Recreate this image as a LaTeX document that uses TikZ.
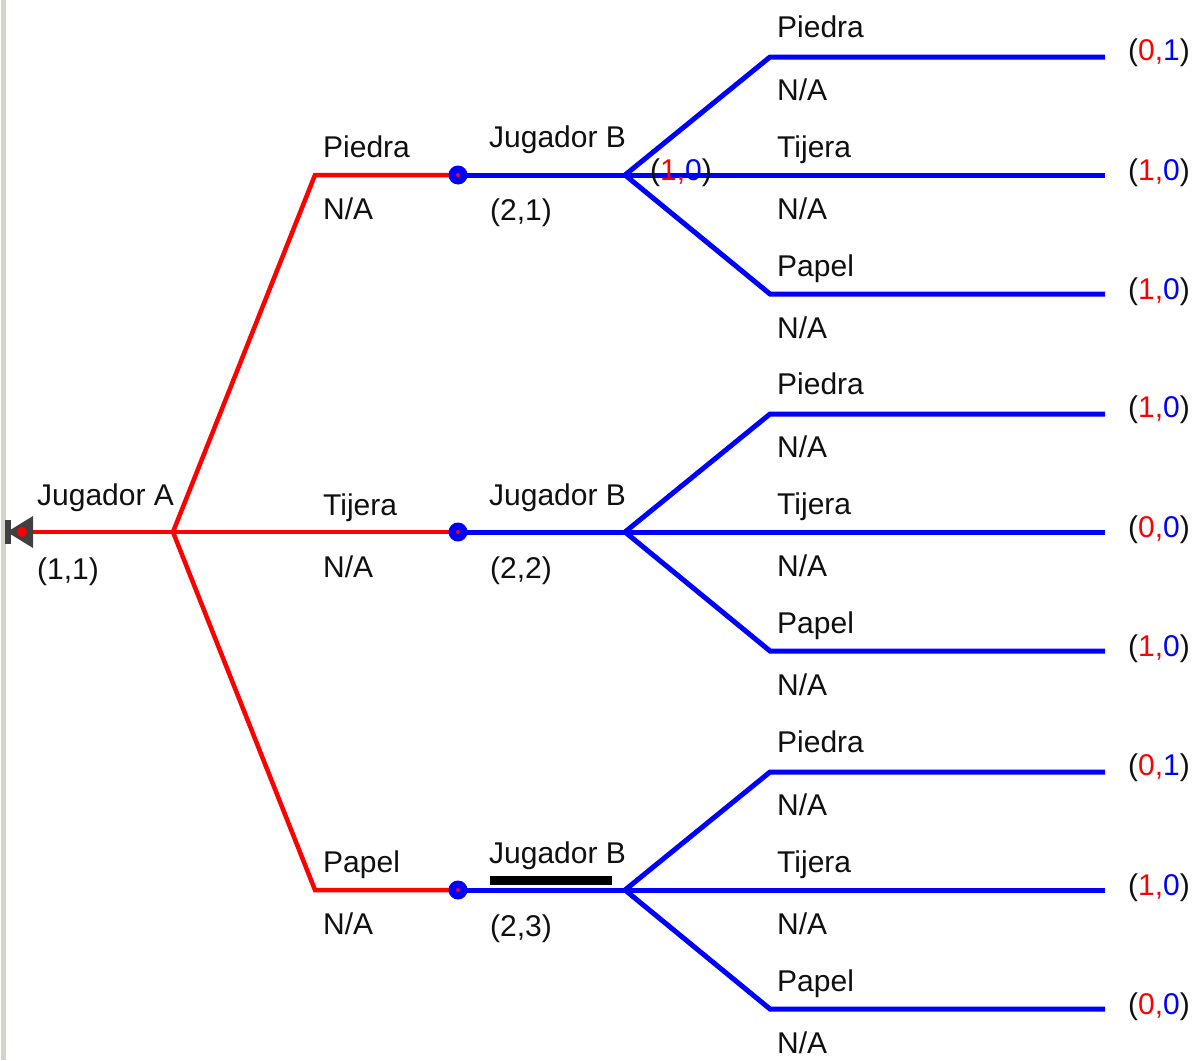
\documentclass[tikz,border=0pt]{standalone}
\usepackage{fontspec}
\setmainfont{Liberation Sans}
\definecolor{txt}{HTML}{101010}
\definecolor{rd}{HTML}{FF0000}
\definecolor{bl}{HTML}{0000FF}
\definecolor{brd}{HTML}{D4D4C8}
\begin{document}
\begin{tikzpicture}[x=1pt,y=-1pt,
  lbl/.style={anchor=base west,inner sep=0pt,text=txt,font=\fontsize{30}{32}\selectfont},
  redline/.style={draw=rd,line width=4.5pt,line join=miter},
  blueline/.style={draw=bl,line width=5pt,line join=miter},
  dot/.style={circle,fill=bl,inner sep=0pt,minimum size=19pt}]
\useasboundingbox (0,0) rectangle (1196,1060);
\fill[white] (0,0) rectangle (1196,1060);
\fill[brd] (1,0) rectangle (6,1060);
% root
\coordinate (start) at (10,532);
\coordinate (root) at (173,532);
\coordinate (a1) at (315,175);
\coordinate (a2) at (315,532);
\coordinate (a3) at (315,890);
\coordinate (d1) at (458,175);
\coordinate (d2) at (458,532);
\coordinate (d3) at (458,890);
\coordinate (b1) at (625,175);
\coordinate (b2) at (625,532);
\coordinate (b3) at (625,890);
\foreach \i/\y in {1/175,2/532,3/890}{
  \coordinate (c\i1) at (770,\y-118);
  \coordinate (c\i2) at (770,\y);
  \coordinate (c\i3) at (770,\y+119);
  \coordinate (e\i1) at (1105,\y-118);
  \coordinate (e\i2) at (1105,\y);
  \coordinate (e\i3) at (1105,\y+119);
}
% red part
\draw[redline] (start) -- (root);
\draw[redline] (root) -- (a1) -- (d1);
\draw[redline] (root) -- (a2) -- (d2);
\draw[redline] (root) -- (a3) -- (d3);
% blue part
\foreach \i in {1,2,3}{
  \draw[blueline] (d\i) -- (b\i);
  \draw[blueline] (b\i) -- (c\i1) -- (e\i1);
  \draw[blueline] (b\i) -- (c\i2) -- (e\i2);
  \draw[blueline] (b\i) -- (c\i3) -- (e\i3);
  \node[dot] (dot\i) at (d\i) {};
  \fill[rd] (d\i) circle (2);
}
% start marker
\fill[black!75] (7,532) -- (33,516) -- (33,548) -- cycle;
\fill[black!75] (5,520) rectangle (11,544);
\fill[rd] (22,532) circle (5);
% black bar
\fill[black] (490,876) rectangle (612,885);
% labels
\node[lbl] (ja) at (37,505) {Jugador A};
\node[lbl] (p11) at (37,579) {(1,1)};
\node[lbl] (la1) at (323,157) {Piedra};
\node[lbl] (na1) at (323,219) {N/A};
\node[lbl] (la2) at (323,515) {Tijera};
\node[lbl] (na2) at (323,577) {N/A};
\node[lbl] (la3) at (323,872) {Papel};
\node[lbl] (na3) at (323,934) {N/A};
\node[lbl] (jb1) at (489,147) {Jugador B};
\node[lbl] (p21) at (490,220) {(2,1)};
\node[lbl] (jb2) at (489,505) {Jugador B};
\node[lbl] (p22) at (490,578) {(2,2)};
\node[lbl] (jb3) at (489,863) {Jugador B};
\node[lbl] (p23) at (490,936) {(2,3)};
\node[lbl] (ov) at (650,180) {(\textcolor{rd}{1,}\textcolor{bl}{0})};
\foreach \i/\y in {1/175,2/532,3/890}{
  \node[lbl] at (777,\y-138) {Piedra};
  \node[lbl] at (777,\y-75) {N/A};
  \node[lbl] at (777,\y-18) {Tijera};
  \node[lbl] at (777,\y+44) {N/A};
  \node[lbl] at (777,\y+101) {Papel};
  \node[lbl] at (777,\y+163) {N/A};
}
\newcommand{\pay}[2]{(\textcolor{rd}{#1,}\textcolor{bl}{#2})}
\node[lbl] at (1128,60) {\pay{0}{1}};
\node[lbl] at (1128,180) {\pay{1}{0}};
\node[lbl] at (1128,299) {\pay{1}{0}};
\node[lbl] at (1128,417) {\pay{1}{0}};
\node[lbl] at (1128,537) {\pay{0}{0}};
\node[lbl] at (1128,656) {\pay{1}{0}};
\node[lbl] at (1128,775) {\pay{0}{1}};
\node[lbl] at (1128,895) {\pay{1}{0}};
\node[lbl] at (1128,1014) {\pay{0}{0}};
\end{tikzpicture}
\end{document}
